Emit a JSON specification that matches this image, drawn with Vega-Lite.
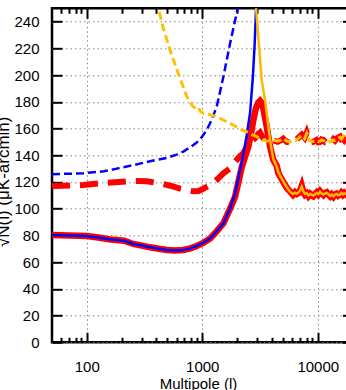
{
  "$schema": "https://vega.github.io/schema/vega-lite/v6.json",
  "width": 300.5,
  "height": 334,
  "autosize": {"type": "none"},
  "padding": {"left": 52, "top": 8.3, "right": -6.5, "bottom": 47.7},
  "config": {
    "view": {"stroke": "black", "strokeWidth": 2.5},
    "font": "Liberation Sans",
    "axis": {"labelFont": "Liberation Sans", "titleFont": "Liberation Sans"}
  },
  "data": {"values": [
    {"s":"bs","l":50,"v":80.3},{"s":"bs","l":70,"v":80},{"s":"bs","l":100,"v":79.6},{"s":"bs","l":130,"v":78.3},{"s":"bs","l":160,"v":77},{"s":"bs","l":182,"v":76.6},{"s":"bs","l":210,"v":76},{"s":"bs","l":253,"v":73.6},{"s":"bs","l":300,"v":72.4},{"s":"bs","l":353,"v":71.1},{"s":"bs","l":420,"v":70},{"s":"bs","l":493,"v":69.1},{"s":"bs","l":580,"v":68.8},{"s":"bs","l":686,"v":69.1},{"s":"bs","l":790,"v":70.3},{"s":"bs","l":895,"v":72.1},{"s":"bs","l":1000,"v":74},{"s":"bs","l":1170,"v":77.8},{"s":"bs","l":1300,"v":82},{"s":"bs","l":1524,"v":89.1},{"s":"bs","l":1742,"v":100.3},{"s":"bs","l":1924,"v":111.5},{"s":"bs","l":2124,"v":129},{"s":"bs","l":2270,"v":141},{"s":"bs","l":2427,"v":155},{"s":"bs","l":2597,"v":172},{"s":"bs","l":2750,"v":200},{"s":"bs","l":2850,"v":225},{"s":"bs","l":2924,"v":250},{"s":"bs","l":2980,"v":268},

    {"s":"rs","l":50,"v":80.3},{"s":"rs","l":70,"v":80},{"s":"rs","l":100,"v":79.6},{"s":"rs","l":130,"v":78.3},{"s":"rs","l":160,"v":77},{"s":"rs","l":182,"v":76.6},{"s":"rs","l":210,"v":76},{"s":"rs","l":253,"v":73.6},{"s":"rs","l":300,"v":72.4},{"s":"rs","l":353,"v":71.1},{"s":"rs","l":420,"v":70},{"s":"rs","l":493,"v":69.1},{"s":"rs","l":580,"v":68.8},{"s":"rs","l":686,"v":69.1},{"s":"rs","l":790,"v":70.3},{"s":"rs","l":895,"v":72.1},{"s":"rs","l":1000,"v":74},{"s":"rs","l":1170,"v":77.8},{"s":"rs","l":1300,"v":82},{"s":"rs","l":1524,"v":89.1},{"s":"rs","l":1742,"v":100},{"s":"rs","l":1924,"v":109},{"s":"rs","l":2197,"v":131},{"s":"rs","l":2350,"v":139},{"s":"rs","l":2507,"v":146.4},{"s":"rs","l":2650,"v":157},{"s":"rs","l":2772,"v":166.4},{"s":"rs","l":2900,"v":174.5},{"s":"rs","l":3050,"v":179.5},{"s":"rs","l":3162,"v":180.8},{"s":"rs","l":3280,"v":179},{"s":"rs","l":3381,"v":175},{"s":"rs","l":3500,"v":168},{"s":"rs","l":3617,"v":161.4},{"s":"rs","l":3864,"v":146.4},{"s":"rs","l":4126,"v":136.5},{"s":"rs","l":4420,"v":132},{"s":"rs","l":4563,"v":126.5},{"s":"rs","l":5030,"v":120},{"s":"rs","l":5400,"v":115.5},{"s":"rs","l":5750,"v":113},{"s":"rs","l":6100,"v":110.5},{"s":"rs","l":6350,"v":112.3},{"s":"rs","l":6580,"v":111},{"s":"rs","l":6900,"v":112},{"s":"rs","l":7100,"v":114.5},{"s":"rs","l":7270,"v":117},{"s":"rs","l":7500,"v":112.5},{"s":"rs","l":7750,"v":110.5},{"s":"rs","l":8030,"v":111.5},{"s":"rs","l":8300,"v":109.5},{"s":"rs","l":8600,"v":111.2},{"s":"rs","l":8900,"v":110},{"s":"rs","l":9160,"v":109.3},{"s":"rs","l":9500,"v":111},{"s":"rs","l":9800,"v":112.2},{"s":"rs","l":10100,"v":110.8},{"s":"rs","l":10470,"v":113},{"s":"rs","l":10800,"v":111.5},{"s":"rs","l":11200,"v":110.2},{"s":"rs","l":11600,"v":111.8},{"s":"rs","l":11960,"v":112.3},{"s":"rs","l":12400,"v":110.5},{"s":"rs","l":12800,"v":109.2},{"s":"rs","l":13200,"v":110.6},{"s":"rs","l":13660,"v":109},{"s":"rs","l":14100,"v":110.7},{"s":"rs","l":14500,"v":111.2},{"s":"rs","l":15000,"v":109.8},{"s":"rs","l":15600,"v":110.8},{"s":"rs","l":16000,"v":112},{"s":"rs","l":16500,"v":110.5},{"s":"rs","l":17000,"v":111.8},{"s":"rs","l":17600,"v":110.6},{"s":"rs","l":18200,"v":111.7},{"s":"rs","l":18800,"v":110.3},{"s":"rs","l":19400,"v":111.5},{"s":"rs","l":20000,"v":110.5},

    {"s":"bd","l":50,"v":125.8},{"s":"bd","l":93,"v":126.5},{"s":"bd","l":140,"v":128},{"s":"bd","l":182,"v":130},{"s":"bd","l":250,"v":132.5},{"s":"bd","l":353,"v":135.5},{"s":"bd","l":493,"v":138},{"s":"bd","l":600,"v":140.5},{"s":"bd","l":686,"v":142.7},{"s":"bd","l":800,"v":146.5},{"s":"bd","l":895,"v":149.5},{"s":"bd","l":1000,"v":154},{"s":"bd","l":1094,"v":158.9},{"s":"bd","l":1200,"v":166},{"s":"bd","l":1334,"v":176.3},{"s":"bd","l":1524,"v":198.8},{"s":"bd","l":1742,"v":223.8},{"s":"bd","l":2013,"v":248.7},{"s":"bd","l":2100,"v":258},

    {"s":"rd","l":50,"v":117},{"s":"rd","l":93,"v":117.7},{"s":"rd","l":130,"v":119},{"s":"rd","l":190,"v":120},{"s":"rd","l":253,"v":120.7},{"s":"rd","l":331,"v":120.5},{"s":"rd","l":431,"v":119},{"s":"rd","l":530,"v":117.2},{"s":"rd","l":642,"v":115},{"s":"rd","l":740,"v":113.8},{"s":"rd","l":838,"v":113},{"s":"rd","l":930,"v":113.3},{"s":"rd","l":1000,"v":114.5},{"s":"rd","l":1170,"v":117.7},{"s":"rd","l":1350,"v":122},{"s":"rd","l":1524,"v":126.5},{"s":"rd","l":1742,"v":130.2},{"s":"rd","l":1924,"v":135},{"s":"rd","l":2100,"v":139},{"s":"rd","l":2270,"v":141.5},{"s":"rd","l":2400,"v":145.5},{"s":"rd","l":2597,"v":150},{"s":"rd","l":2860,"v":152.7},{"s":"rd","l":3050,"v":156},{"s":"rd","l":3162,"v":157},{"s":"rd","l":3300,"v":154},{"s":"rd","l":3400,"v":152.5},{"s":"rd","l":3735,"v":150.5},{"s":"rd","l":4126,"v":151},{"s":"rd","l":4500,"v":150},{"s":"rd","l":4800,"v":151.2},{"s":"rd","l":5030,"v":152.5},{"s":"rd","l":5400,"v":150},{"s":"rd","l":5750,"v":149.5},{"s":"rd","l":6100,"v":152},{"s":"rd","l":6450,"v":151},{"s":"rd","l":6790,"v":153},{"s":"rd","l":7270,"v":155.5},{"s":"rd","l":7700,"v":153},{"s":"rd","l":8030,"v":157},{"s":"rd","l":8300,"v":153.5},{"s":"rd","l":8500,"v":151},{"s":"rd","l":8800,"v":149.8},{"s":"rd","l":9160,"v":150},{"s":"rd","l":9770,"v":151.5},{"s":"rd","l":10100,"v":149.8},{"s":"rd","l":10470,"v":150},{"s":"rd","l":10800,"v":151.8},{"s":"rd","l":11200,"v":151.5},{"s":"rd","l":11600,"v":149.8},{"s":"rd","l":11960,"v":150},{"s":"rd","l":12400,"v":151.6},{"s":"rd","l":12800,"v":151},{"s":"rd","l":13200,"v":150.2},{"s":"rd","l":13660,"v":152},{"s":"rd","l":14100,"v":151},{"s":"rd","l":14500,"v":152.5},{"s":"rd","l":15000,"v":153.2},{"s":"rd","l":15600,"v":154},{"s":"rd","l":16000,"v":152},{"s":"rd","l":16600,"v":152.5},{"s":"rd","l":17000,"v":151.3},{"s":"rd","l":17600,"v":153},{"s":"rd","l":18200,"v":151.5},{"s":"rd","l":18800,"v":152},{"s":"rd","l":19400,"v":153.2},{"s":"rd","l":20000,"v":152.5},

    {"s":"od","l":400,"v":256},{"s":"od","l":417,"v":250},{"s":"od","l":460,"v":235},{"s":"od","l":526,"v":218.8},{"s":"od","l":621,"v":201},{"s":"od","l":734,"v":184},{"s":"od","l":820,"v":177},{"s":"od","l":895,"v":174.5},{"s":"od","l":930,"v":175.5},{"s":"od","l":960,"v":173},{"s":"od","l":1023,"v":171.4},{"s":"od","l":1150,"v":170.5},{"s":"od","l":1334,"v":168.9},{"s":"od","l":1550,"v":166},{"s":"od","l":1857,"v":162.6},{"s":"od","l":2197,"v":159},{"s":"od","l":2427,"v":157.6},{"s":"od","l":2700,"v":155.5},{"s":"od","l":2965,"v":153.9},{"s":"od","l":3250,"v":152},{"s":"od","l":3617,"v":150.5},{"s":"od","l":4126,"v":151.5},{"s":"od","l":4500,"v":150.5},{"s":"od","l":4800,"v":151.5},{"s":"od","l":5030,"v":152.7},{"s":"od","l":5400,"v":150.5},{"s":"od","l":5750,"v":150},{"s":"od","l":6100,"v":151.5},{"s":"od","l":6450,"v":150.8},{"s":"od","l":6790,"v":152.7},{"s":"od","l":7270,"v":155},{"s":"od","l":7700,"v":152.5},{"s":"od","l":8030,"v":156.4},{"s":"od","l":8300,"v":153},{"s":"od","l":8500,"v":151},{"s":"od","l":8800,"v":150.2},{"s":"od","l":9160,"v":150.5},{"s":"od","l":9770,"v":151.2},{"s":"od","l":10100,"v":150.2},{"s":"od","l":10470,"v":150.5},{"s":"od","l":10800,"v":151.5},{"s":"od","l":11200,"v":151},{"s":"od","l":11600,"v":150.2},{"s":"od","l":11960,"v":150.5},{"s":"od","l":12400,"v":151.2},{"s":"od","l":12800,"v":150},{"s":"od","l":13200,"v":150.6},{"s":"od","l":13660,"v":151.5},{"s":"od","l":14100,"v":151},{"s":"od","l":14500,"v":152},{"s":"od","l":15000,"v":152.8},{"s":"od","l":15600,"v":153.5},{"s":"od","l":16000,"v":152.2},{"s":"od","l":16600,"v":153.9},{"s":"od","l":17000,"v":152},{"s":"od","l":17600,"v":152.5},{"s":"od","l":18200,"v":151.8},{"s":"od","l":18800,"v":152},{"s":"od","l":19400,"v":152.8},{"s":"od","l":20000,"v":152.5},

    {"s":"os","l":2880,"v":262},{"s":"os","l":2924,"v":250},{"s":"os","l":3100,"v":222},{"s":"os","l":3273,"v":196},{"s":"os","l":3500,"v":181.4},{"s":"os","l":3735,"v":161.4},{"s":"os","l":3945,"v":146.4},{"s":"os","l":4130,"v":137},{"s":"os","l":4420,"v":131.5},{"s":"os","l":4563,"v":127},{"s":"os","l":5030,"v":120.5},{"s":"os","l":5400,"v":116},{"s":"os","l":5750,"v":112.7},{"s":"os","l":6100,"v":111},{"s":"os","l":6350,"v":112},{"s":"os","l":6580,"v":111.2},{"s":"os","l":6900,"v":112.5},{"s":"os","l":7100,"v":114.5},{"s":"os","l":7270,"v":116.5},{"s":"os","l":7500,"v":113},{"s":"os","l":7750,"v":111},{"s":"os","l":8030,"v":111.5},{"s":"os","l":8300,"v":110},{"s":"os","l":8600,"v":111},{"s":"os","l":8900,"v":110.3},{"s":"os","l":9160,"v":109.8},{"s":"os","l":9500,"v":111},{"s":"os","l":9800,"v":111.8},{"s":"os","l":10100,"v":111},{"s":"os","l":10470,"v":112.7},{"s":"os","l":10800,"v":111.3},{"s":"os","l":11200,"v":110.6},{"s":"os","l":11600,"v":111.5},{"s":"os","l":11960,"v":111.8},{"s":"os","l":12400,"v":110.8},{"s":"os","l":12800,"v":109.6},{"s":"os","l":13200,"v":110.5},{"s":"os","l":13660,"v":109.3},{"s":"os","l":14100,"v":110.5},{"s":"os","l":14500,"v":111},{"s":"os","l":15000,"v":110.2},{"s":"os","l":15600,"v":110.6},{"s":"os","l":16000,"v":111.7},{"s":"os","l":16500,"v":110.8},{"s":"os","l":17000,"v":111.5},{"s":"os","l":17600,"v":111},{"s":"os","l":18200,"v":111.4},{"s":"os","l":18800,"v":110.5},{"s":"os","l":19400,"v":111.2},{"s":"os","l":20000,"v":111}
  ]},
  "layer": [
    {
      "encoding": {
        "x": {"field": "l", "type": "quantitative",
          "scale": {"type": "log", "domain": [50, 20000], "nice": false},
          "axis": {
            "title": "Multipole (l)", "titleFontSize": 15, "titleFontWeight": "normal", "titleColor": "black",
            "titleX": 146, "titleY": 45.7, "titleBaseline": "alphabetic", "titleAlign": "center",
            "values": [60,70,80,90,100,200,300,400,500,600,700,800,900,1000,2000,3000,4000,5000,6000,7000,8000,9000,10000,20000],
            "labelExpr": "(datum.value==100||datum.value==1000||datum.value==10000) ? format(datum.value,'d') : ''",
            "labelFontSize": 15, "labelColor": "black", "labelPadding": 27, "labelFlush": false,
            "domain": false,
            "tickColor": "black", "tickWidth": 2,
            "tickSize": {"condition": {"test": "datum.value==100||datum.value==1000||datum.value==10000", "value": -10}, "value": -5},
            "grid": true, "gridColor": "#888888", "gridDash": [1.5, 3], "gridWidth": 1,
            "gridOpacity": {"condition": {"test": "datum.value==100||datum.value==1000||datum.value==10000", "value": 1}, "value": 0}
          }},
        "y": {"field": "v", "type": "quantitative",
          "scale": {"domain": [0, 250], "nice": false},
          "axis": {
            "title": "√N(l) (μK-arcmin)", "titleFontSize": 17, "titleFontWeight": "normal", "titleColor": "black",
            "titleAngle": -90, "titleX": -43.5, "titleY": 173, "titleBaseline": "alphabetic", "titleAlign": "center",
            "values": [0,20,40,60,80,100,120,140,160,180,200,220,240],
            "labelFontSize": 15, "labelColor": "black", "labelPadding": 23,
            "domain": false,
            "tickColor": "black", "tickWidth": 2, "tickSize": -10,
            "grid": true, "gridColor": "#888888", "gridDash": [1.5, 3], "gridWidth": 1
          }}
      },
      "layer": [
        {"transform": [{"filter": "datum.s=='rd'"}], "mark": {"type": "line", "color": "#ff0000", "strokeWidth": 6, "strokeDash": [18, 10], "clip": true}},
        {"transform": [{"filter": "datum.s=='rs'"}], "mark": {"type": "line", "color": "#ff0000", "strokeWidth": 6.5, "clip": true}},
        {"transform": [{"filter": "datum.s=='bd'"}], "mark": {"type": "line", "color": "#0000ff", "strokeWidth": 2.5, "strokeDash": [8, 4], "clip": true}},
        {"transform": [{"filter": "datum.s=='bs'"}], "mark": {"type": "line", "color": "#0000ff", "strokeWidth": 2.5, "clip": true}},
        {"transform": [{"filter": "datum.s=='od'"}], "mark": {"type": "line", "color": "#ffc000", "strokeWidth": 3, "strokeDash": [8, 4], "clip": true}}
      ]
    },
    {
      "transform": [{"filter": "datum.s=='os'"}],
      "mark": {"type": "line", "color": "#ffb800", "strokeWidth": 2.5, "clip": true},
      "encoding": {
        "x": {"field": "l", "type": "quantitative",
          "scale": {"type": "log", "domain": [50, 20000], "nice": false},
          "axis": {
            "orient": "top", "title": null, "labels": false, "domain": false, "grid": false,
            "values": [60,70,80,90,100,200,300,400,500,600,700,800,900,1000,2000,3000,4000,5000,6000,7000,8000,9000,10000,20000],
            "tickColor": "black", "tickWidth": 2,
            "tickSize": {"condition": {"test": "datum.value==100||datum.value==1000||datum.value==10000", "value": -10}, "value": -5}
          }},
        "y": {"field": "v", "type": "quantitative",
          "scale": {"domain": [0, 250], "nice": false},
          "axis": {
            "orient": "right", "title": null, "labels": false, "domain": false, "grid": false,
            "values": [0,20,40,60,80,100,120,140,160,180,200,220,240],
            "tickColor": "black", "tickWidth": 2, "tickSize": -10
          }}
      }
    }
  ],
  "resolve": {"axis": {"x": "independent", "y": "independent"}}
}
